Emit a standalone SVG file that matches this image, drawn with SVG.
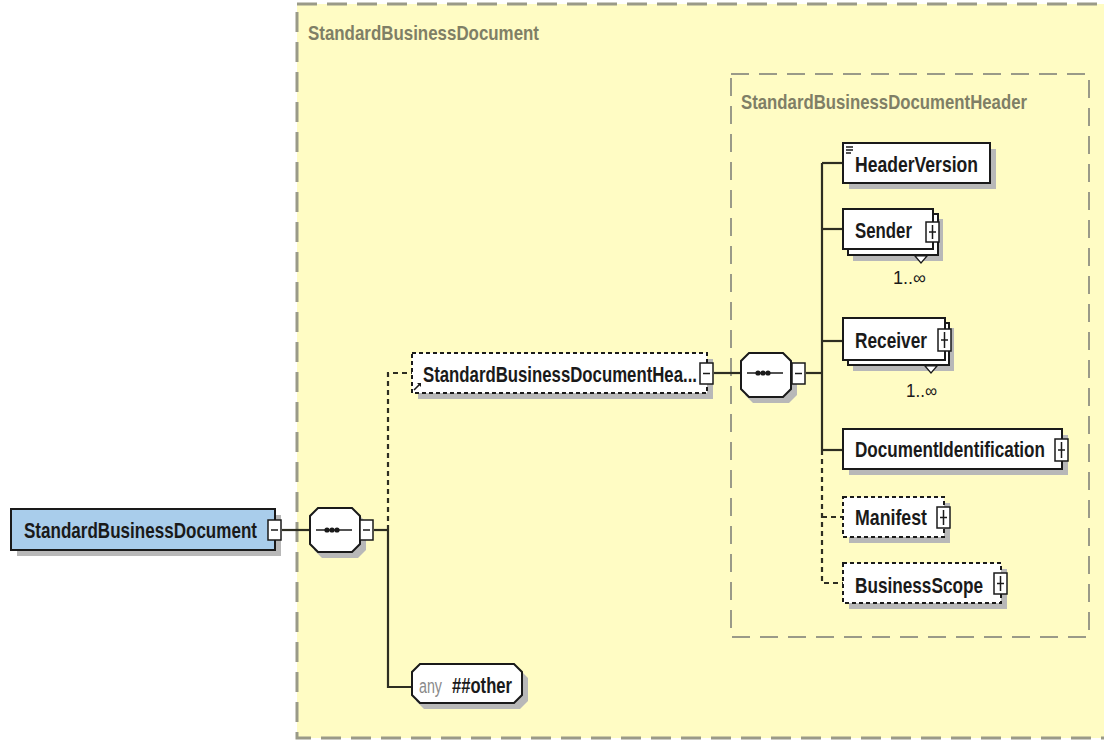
<svg xmlns="http://www.w3.org/2000/svg" width="1104" height="740" viewBox="0 0 1104 740">
<defs>
<style>
.t{font-family:"Liberation Sans",Arial,sans-serif;font-weight:bold;font-size:22px;fill:#1a1a1a;}
.lbl{font-family:"Liberation Sans",Arial,sans-serif;font-weight:bold;font-size:21px;fill:#7f7f66;}
.sm{font-family:"Liberation Sans",Arial,sans-serif;font-size:18px;fill:#1a1a1a;}
.box{fill:#ffffff;stroke:#1a1a1a;stroke-width:2;}
.dbox{fill:#ffffff;stroke:#1a1a1a;stroke-width:2;stroke-dasharray:4 3;}
.sh{fill:#b8b8b8;}
.ln{stroke:#2e2e22;stroke-width:2.2;fill:none;}
.dln{stroke:#2e2e22;stroke-width:2.2;fill:none;stroke-dasharray:5 4;}
.pm{fill:#ffffff;stroke:#1a1a1a;stroke-width:1.5;}
.pml{stroke:#1a1a1a;stroke-width:1.5;}
.grp{fill:#fffcc4;stroke:#9a9a88;stroke-width:3;stroke-dasharray:20 10;}
.grp2{fill:none;stroke:#9a9a88;stroke-width:2;stroke-dasharray:18 10;}
</style>
</defs>
<rect width="1104" height="740" fill="#ffffff"/>

<g id="outer-group">
<rect class="grp" x="297" y="4" width="840" height="734"/>
<text class="lbl" x="308" y="40" textLength="231" lengthAdjust="spacingAndGlyphs">StandardBusinessDocument</text>
</g>
<g id="inner-group">
<rect class="grp2" x="731" y="74" width="358" height="563"/>
<text class="lbl" x="741" y="109" textLength="286" lengthAdjust="spacingAndGlyphs">StandardBusinessDocumentHeader</text>
</g>

<g id="connectors">
<line class="ln" x1="282" y1="530" x2="310" y2="530"/>
<line class="ln" x1="374" y1="530" x2="388" y2="530"/>
<path class="dln" d="M388,530 V373 H412"/>
<path class="ln" d="M388,530 V687 H412"/>
<line class="ln" x1="714" y1="373" x2="741" y2="373"/>
<line class="ln" x1="806" y1="373" x2="822" y2="373"/>
<path class="ln" d="M822,163 V450"/>
<line class="ln" x1="822" y1="163" x2="843" y2="163"/>
<line class="ln" x1="822" y1="229" x2="843" y2="229"/>
<line class="ln" x1="822" y1="341" x2="843" y2="341"/>
<line class="ln" x1="822" y1="450" x2="843" y2="450"/>
<path class="dln" d="M822,450 V583 H843"/>
<line class="dln" x1="822" y1="517" x2="843" y2="517"/>
</g>

<g id="node-root">
<rect class="sh" x="17" y="515" width="264" height="41"/>
<rect x="11" y="509" width="264" height="41" fill="#a9cdeb" stroke="#1a1a1a" stroke-width="2"/>
<text class="t" x="24" y="538" textLength="233" lengthAdjust="spacingAndGlyphs">StandardBusinessDocument</text>
<rect class="pm" x="268" y="520" width="13" height="20"/>
<line class="pml" x1="271" y1="530" x2="278" y2="530"/>
</g>

<g id="node-seq1">
<polygon class="sh" points="322,514 358,514 366,522 366,550 358,558 322,558 314,550 314,522"/>
<polygon class="box" points="318,508 352,508 360,516 360,544 352,552 318,552 310,544 310,516"/>
<line class="pml" x1="316" y1="530" x2="352" y2="530"/>
<circle cx="327" cy="530" r="2.6" fill="#1a1a1a"/>
<circle cx="332" cy="530" r="2.6" fill="#1a1a1a"/>
<circle cx="337" cy="530" r="2.6" fill="#1a1a1a"/>
<rect class="pm" x="360" y="520" width="13" height="20"/>
<line class="pml" x1="363" y1="530" x2="370" y2="530"/>
</g>

<g id="node-sbdh">
<rect class="sh" x="418" y="359" width="295" height="40"/>
<rect class="dbox" x="412" y="353" width="295" height="40"/>
<text class="t" x="423" y="382" textLength="274" lengthAdjust="spacingAndGlyphs">StandardBusinessDocumentHea...</text>
<path d="M414,390 L420,384" stroke="#1a1a1a" stroke-width="1.6"/>
<path d="M417,383 L421,383 L421,387 Z" fill="#1a1a1a"/>
<rect class="pm" x="700" y="363" width="13" height="21"/>
<line class="pml" x1="703" y1="373.5" x2="710" y2="373.5"/>
</g>

<g id="node-seq2">
<polygon class="sh" points="753,359 789,359 797,367 797,395 789,403 753,403 745,395 745,367"/>
<polygon class="box" points="749,353 783,353 791,361 791,389 783,397 749,397 741,389 741,361"/>
<line class="pml" x1="747" y1="373" x2="783" y2="373"/>
<circle cx="758" cy="373" r="2.6" fill="#1a1a1a"/>
<circle cx="763" cy="373" r="2.6" fill="#1a1a1a"/>
<circle cx="768" cy="373" r="2.6" fill="#1a1a1a"/>
<rect class="pm" x="792" y="363" width="13" height="21"/>
<line class="pml" x1="795" y1="373.5" x2="802" y2="373.5"/>
</g>

<g id="node-headerversion">
<rect class="sh" x="849" y="149" width="147" height="40"/>
<rect class="box" x="843" y="143" width="147" height="40"/>
<line class="pml" x1="846" y1="147" x2="853" y2="147" stroke-width="1"/>
<line class="pml" x1="846" y1="150" x2="853" y2="150" stroke-width="1"/>
<line class="pml" x1="846" y1="153" x2="851" y2="153" stroke-width="1"/>
<text class="t" x="855" y="172" textLength="123" lengthAdjust="spacingAndGlyphs">HeaderVersion</text>
</g>

<g id="node-sender">
<rect class="sh" x="853" y="219" width="90" height="42"/>
<rect class="box" x="848" y="214" width="90" height="41"/>
<rect class="box" x="843" y="209" width="90" height="40"/>
<text class="t" x="855" y="238" textLength="57" lengthAdjust="spacingAndGlyphs">Sender</text>
<rect class="pm" x="926" y="222" width="13" height="20"/>
<line class="pml" x1="929" y1="232" x2="936" y2="232"/>
<line class="pml" x1="932.5" y1="225" x2="932.5" y2="239"/>
<polygon points="915,256 927,256 921,263" fill="#ffffff" stroke="#1a1a1a" stroke-width="1.2"/>
<text class="sm" x="893" y="284" textLength="33" lengthAdjust="spacingAndGlyphs">1..∞</text>
</g>

<g id="node-receiver">
<rect class="sh" x="853" y="328" width="101" height="43"/>
<rect class="box" x="848" y="323" width="101" height="42"/>
<rect class="box" x="843" y="318" width="102" height="42"/>
<text class="t" x="855" y="348" textLength="72" lengthAdjust="spacingAndGlyphs">Receiver</text>
<rect class="pm" x="938" y="329" width="13" height="22"/>
<line class="pml" x1="941" y1="340" x2="948" y2="340"/>
<line class="pml" x1="944.5" y1="332" x2="944.5" y2="348"/>
<polygon points="925,366 937,366 931,373" fill="#ffffff" stroke="#1a1a1a" stroke-width="1.2"/>
<text class="sm" x="906" y="397" textLength="31" lengthAdjust="spacingAndGlyphs">1..∞</text>
</g>

<g id="node-docid">
<rect class="sh" x="849" y="435" width="219" height="40"/>
<rect class="box" x="843" y="429" width="219" height="40"/>
<text class="t" x="855" y="457" textLength="190" lengthAdjust="spacingAndGlyphs">DocumentIdentification</text>
<rect class="pm" x="1055" y="439" width="13" height="22"/>
<line class="pml" x1="1058" y1="450" x2="1065" y2="450"/>
<line class="pml" x1="1061.5" y1="442" x2="1061.5" y2="458"/>
</g>

<g id="node-manifest">
<rect class="sh" x="849" y="503" width="101" height="40"/>
<rect class="dbox" x="843" y="497" width="101" height="40"/>
<text class="t" x="855" y="525" textLength="72" lengthAdjust="spacingAndGlyphs">Manifest</text>
<rect class="pm" x="937" y="507" width="13" height="21"/>
<line class="pml" x1="940" y1="517.5" x2="947" y2="517.5"/>
<line class="pml" x1="943.5" y1="510" x2="943.5" y2="525"/>
</g>

<g id="node-businessscope">
<rect class="sh" x="849" y="569" width="158" height="40"/>
<rect class="dbox" x="843" y="563" width="158" height="40"/>
<text class="t" x="855" y="593" textLength="128" lengthAdjust="spacingAndGlyphs">BusinessScope</text>
<rect class="pm" x="994" y="573" width="13" height="21"/>
<line class="pml" x1="997" y1="583.5" x2="1004" y2="583.5"/>
<line class="pml" x1="1000.5" y1="576" x2="1000.5" y2="591"/>
</g>

<g id="node-any">
<polygon class="sh" points="424,670 520,670 528,678 528,701 520,709 424,709 416,701 416,678"/>
<polygon class="box" points="420,664 514,664 522,672 522,695 514,703 420,703 412,695 412,672"/>
<text x="419" y="693" font-family="Liberation Sans, Arial, sans-serif" font-size="20" fill="#8a8a8a" textLength="23" lengthAdjust="spacingAndGlyphs">any</text>
<text class="t" x="452" y="693" font-size="20" textLength="60" lengthAdjust="spacingAndGlyphs">##other</text>
</g>
</svg>
